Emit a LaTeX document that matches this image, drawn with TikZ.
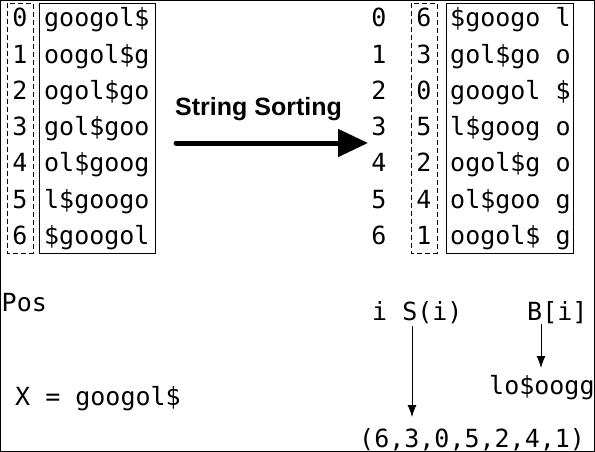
\documentclass[tikz,border=0pt]{standalone}
\usepackage{fontspec}
\setmainfont{Liberation Sans}
\setmonofont{DejaVu Sans Mono}
\usetikzlibrary{arrows.meta,calc}

\begin{document}
\begin{tikzpicture}[x=1pt,y=-1pt,
  mono/.style={font=\fontsize{25}{30}\selectfont\ttfamily,inner sep=0pt,anchor=base west},
  idx/.style={mono,anchor=base},
  box/.style={draw,line width=0.9pt},
  dbox/.style={draw,line width=0.9pt,dash pattern=on 5pt off 3pt},
  sortarr/.style={-{Triangle[length=30pt,width=27pt]},line width=5pt,line cap=round},
  ptr/.style={-{Latex[length=12pt,width=9pt]},line width=0.9pt}]
\useasboundingbox (0,0) rectangle (595,452);
\draw[line width=1pt] (0.5,0.5) rectangle (594.5,451.5);
% rotations of X
\foreach \s [count=\i from 0] in {googol\$,oogol\$g,ogol\$go,gol\$goo,ol\$goog,l\$googo,\$googol} {
  \node[idx] (l\i) at (20,{27+36.2*\i}) {\i};
  \node[mono] (ls\i) at (44,{27+36.2*\i}) {\s};
}
\draw[dbox] (7,3) rectangle (33,253);
\draw[box] (39,3) rectangle (155,253);
% sorted rotations
\foreach \p/\s [count=\i from 0] in {6/{\$googo l},3/{gol\$go o},0/{googol \$},5/{l\$goog o},2/{ogol\$g o},4/{ol\$goo g},1/{oogol\$ g}} {
  \node[idx] (r\i) at (379,{27+36.2*\i}) {\i};
  \node[idx] (rp\i) at (424,{27+36.2*\i}) {\p};
  \node[mono] (rs\i) at (450,{27+36.2*\i}) {\s};
}
\draw[dbox] (411,3) rectangle (437,253);
\draw[box] (446,3) rectangle (573,253);
% sorting arrow
\node[font=\fontsize{25}{30}\selectfont\bfseries,anchor=base west,inner sep=0pt] (sortlbl) at (175,115) {String Sorting};
\coordinate (sortA) at (176,143);
\coordinate (sortB) at (368,143);
\draw[sortarr] (sortA) -- (sortB);
% bottom part
\node[mono] (pos) at (1.5,311) {Pos};
\node[mono] (si) at (372,320) {i S(i)};
\node[mono] (bi) at (527,320) {B[i]};
\node[mono] (bwt) at (489,394) {lo\$oogg};
\node[mono] (xstr) at (15,405) {X = googol\$};
\node[mono] (perm) at (359,447) {(6,3,0,5,2,4,1)};
\draw[ptr] ($(si.base west)+(40,6)$) -- ($(perm.base west)+(53,-30)$);
\draw[ptr] ($(bi.base west)+(14,4)$) -- ($(bwt.base west)+(52,-26)$);
\end{tikzpicture}
\end{document}
